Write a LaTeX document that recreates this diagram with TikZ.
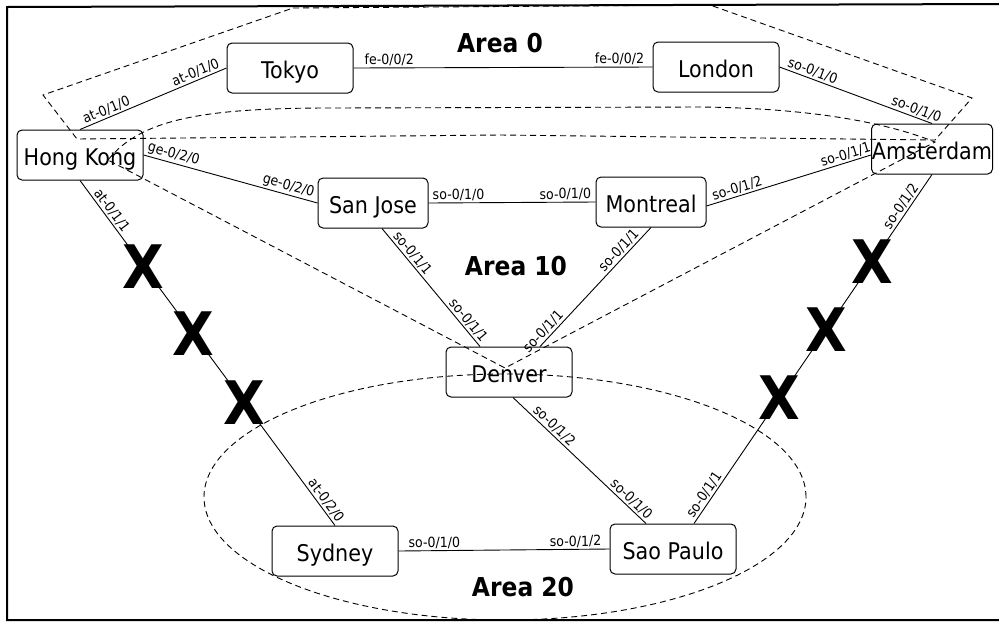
\documentclass[tikz,border=0pt]{standalone}
\usepackage{fontspec}
\setmainfont{DejaVu Sans}[FakeStretch=0.9]
\begin{document}
\begin{tikzpicture}[x=1pt,y=-1pt,
  router/.style={draw, line width=1pt, rounded corners=5pt,
    minimum width=126pt, minimum height=50pt, inner sep=0pt,
    font=\fontsize{23}{27}\selectfont, text height=20pt, text depth=0pt},
  link/.style={line width=0.9pt},
  ifc/.style={font=\fontsize{14}{16}\selectfont, sloped, above, inner sep=1.5pt},
  area/.style={dash pattern=on 6pt off 4pt, line width=0.9pt},
  arealabel/.style={font=\bfseries\fontsize{26}{30}\selectfont, inner sep=0pt},
  cut/.style={font=\bfseries\fontsize{60}{60}\selectfont, inner sep=0pt}
]
\useasboundingbox (0,0) rectangle (999,622);
% page frame (open on the right)
\draw[line width=2pt] (1004,4) -- (7,7) -- (7,620) -- (1004,620);

% routers
\node[router] (tokyo) at (290,68) {Tokyo};
\node[router] (london) at (716,67) {London};
\node[router] (hk) at (80,155) {Hong Kong};
\node[router, minimum width=121pt] (ams) at (932,149) {Amsterdam};
\node[router, minimum width=110pt] (sj) at (373,203) {San Jose};
\node[router, minimum width=110pt] (mtl) at (651,202) {Montreal};
\node[router] (denver) at (509,372) {Denver};
\node[router] (sydney) at (335,551) {Sydney};
\node[router] (sp) at (673,549) {Sao Paulo};

% links with interface names
\draw[link] (hk.north) -- node[ifc,pos=0.2] (l1a) {at-0/1/0} node[ifc,pos=0.81] (l1b) {at-0/1/0} (tokyo.west);
\draw[link] (tokyo.east) -- node[ifc,pos=0.12] (l2a) {fe-0/0/2} node[ifc,pos=0.89] (l2b) {fe-0/0/2} (london.west);
\draw[link] (london.east) -- node[ifc,pos=0.2] (l3a) {so-0/1/0} node[ifc,pos=0.88] (l3b) {so-0/1/0} (ams.north);
\draw[link] (hk.east) -- node[ifc,pos=0.16] (l4a) {ge-0/2/0} node[ifc,pos=0.82] (l4b) {ge-0/2/0} (sj.west);
\draw[link] (sj.east) -- node[ifc,pos=0.18] (l5a) {so-0/1/0} node[ifc,pos=0.82] (l5b) {so-0/1/0} (mtl.west);
\draw[link] ([yshift=-4pt]mtl.east) -- node[ifc,pos=0.2] (l6a) {so-0/1/2} node[ifc,pos=0.86] (l6b) {so-0/1/1} ([yshift=-6pt]ams.west);
\draw[link] ([xshift=9pt]sj.south) -- node[ifc,pos=0.25] (l7a) {so-0/1/1} node[ifc,pos=0.82] (l7b) {so-0/1/1} ([xshift=-29pt]denver.north);
\draw[link] ([xshift=31pt]denver.north) -- node[ifc,pos=0.08] (l8a) {so-0/1/1} node[ifc,pos=0.76] (l8b) {so-0/1/1} (mtl.south);
\draw[link] (hk.south) -- node[ifc,pos=0.1] (l9a) {at-0/1/1} node[ifc,pos=0.94] (l9b) {at-0/2/0}
  node[cut,pos=0.25] (x1) {X} node[cut,pos=0.445] (x2) {X} node[cut,pos=0.645] (x3) {X} (sydney.north);
\draw[link] ([xshift=4pt]denver.south) -- node[ifc,pos=0.27] (l10a) {so-0/1/2} node[ifc,pos=0.85] (l10b) {so-0/1/0} ([xshift=-27pt]sp.north);
\draw[link] ([xshift=21pt]sp.north) -- node[ifc,pos=0.07] (l11a) {so-0/1/1} node[ifc,pos=0.896] (l11b) {so-0/1/2}
  node[cut,pos=0.36] (x4) {X} node[cut,pos=0.555] (x5) {X} node[cut,pos=0.751] (x6) {X} (ams.south);
\draw[link] (sydney.east) -- node[ifc,pos=0.17] (l12a) {so-0/1/0} node[ifc,pos=0.84] (l12b) {so-0/1/2} (sp.west);

% OSPF areas
\draw[area] (293,8) -- (710,5) -- (972,98) -- (935,140) -- (500,135) -- (77,139) -- (43,95) -- cycle;
\draw[area] (108,160) .. controls (140,120) and (200,108) .. (330,108) -- (700,107)
  .. controls (800,108) and (880,120) .. (935,142) -- (505,368) -- cycle;
\draw[area] (505,497) ellipse [x radius=301pt, y radius=123pt];

\node[arealabel] (a0) at (500,43) {Area 0};
\node[arealabel] (a10) at (516,266) {Area 10};
\node[arealabel] (a20) at (523,587) {Area 20};
\end{tikzpicture}
\end{document}
